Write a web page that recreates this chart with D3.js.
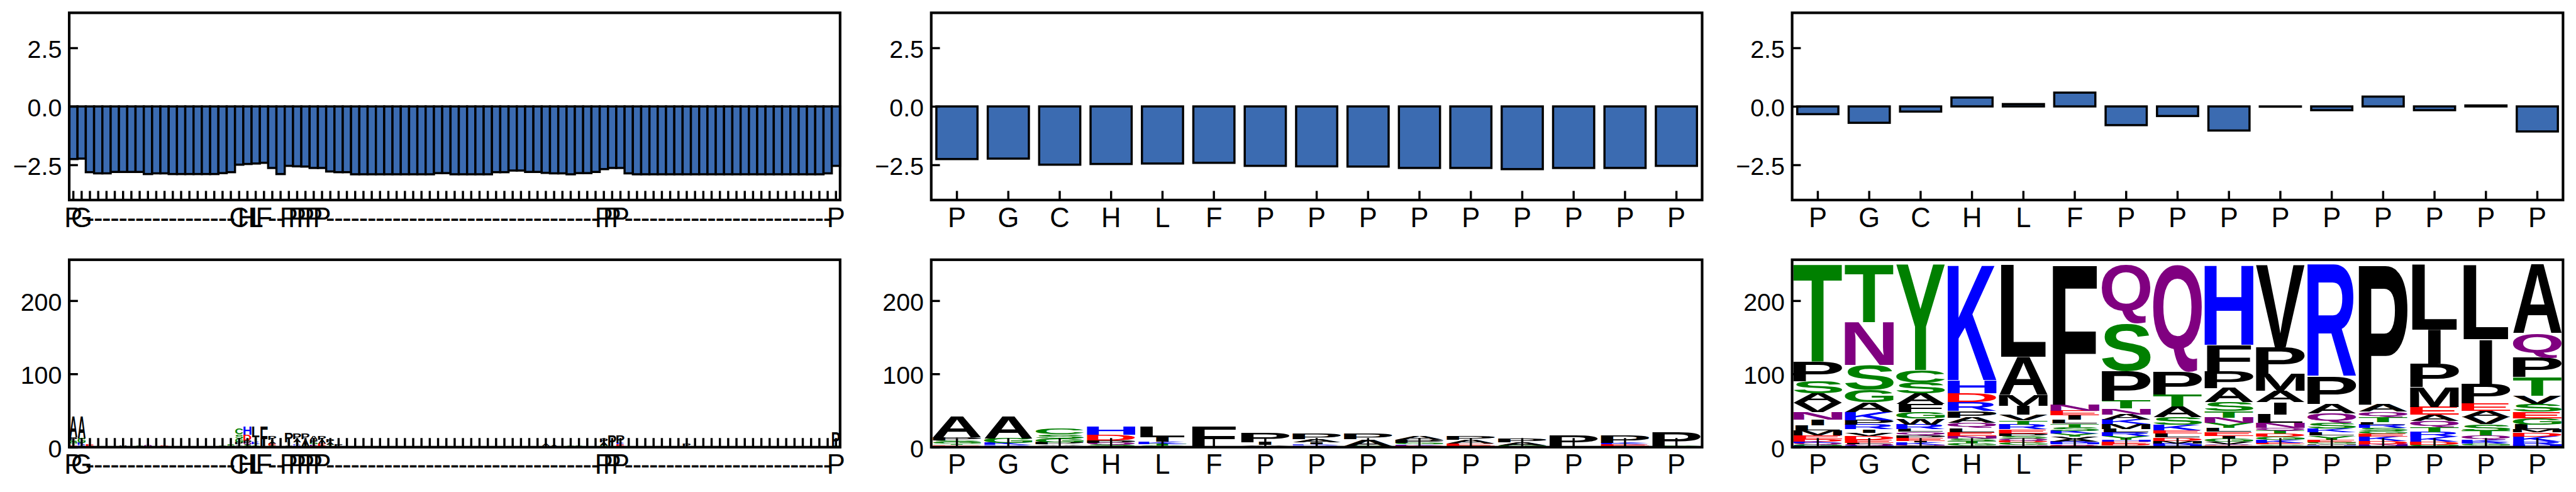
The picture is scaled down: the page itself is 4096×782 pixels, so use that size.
<!DOCTYPE html>
<html><head><meta charset="utf-8">
<script src="https://cdn.jsdelivr.net/npm/d3@7"></script>
<style>html,body{margin:0;padding:0;background:#fff;overflow:hidden}</style>
</head><body><svg id="c" width="4096" height="782" xmlns="http://www.w3.org/2000/svg"></svg>
<script>
// ---------------- DATA ----------------
const seqLabels = ["P","G","C","H","L","F","P","P","P","P","P","P","P","P","P"];
const alnLength = 93;
const alnColumns = [0,1,20,21,22,23,26,27,28,29,30,64,65,66,92]; // alignment column of each residue
const seqScores = [-2.25,-2.23,-2.49,-2.46,-2.44,-2.41,-2.54,-2.56,-2.57,-2.63,-2.63,-2.68,-2.63,-2.63,-2.54];
const gapScores = [ // [column, score] for alignment columns without residue
 [2,-2.81],[3,-2.86],[4,-2.86],[5,-2.80],[6,-2.80],[7,-2.80],[8,-2.80],[9,-2.89],[10,-2.86],[11,-2.86],
 [12,-2.89],[13,-2.89],[14,-2.89],[15,-2.89],[16,-2.89],[17,-2.89],[18,-2.85],[19,-2.81],
 [24,-2.63],[25,-2.89],[31,-2.78],[32,-2.81],[33,-2.81],
 [34,-2.90],[35,-2.90],[36,-2.90],[37,-2.90],[38,-2.90],[39,-2.90],[40,-2.90],[41,-2.90],[42,-2.90],[43,-2.90],
 [44,-2.85],[45,-2.85],[46,-2.90],[47,-2.90],[48,-2.90],[49,-2.90],[50,-2.90],[51,-2.81],[52,-2.81],
 [53,-2.74],[54,-2.74],[55,-2.80],[56,-2.80],[57,-2.84],[58,-2.86],[59,-2.86],[60,-2.90],[61,-2.85],[62,-2.85],[63,-2.80],
 [67,-2.86],[68,-2.90],[69,-2.90],[70,-2.90],[71,-2.90],[72,-2.90],[73,-2.90],[74,-2.90],[75,-2.90],[76,-2.90],
 [77,-2.90],[78,-2.90],[79,-2.90],[80,-2.90],[81,-2.90],[82,-2.90],[83,-2.90],[84,-2.90],[85,-2.90],[86,-2.90],
 [87,-2.90],[88,-2.90],[89,-2.90],[90,-2.90],[91,-2.86]
];
const diffScores = [-0.33,-0.70,-0.22,0.38,0.10,0.59,-0.80,-0.41,-1.03,-0.01,-0.16,0.42,-0.16,0.04,-1.07];
const scoreTicks = [-2.5, 0, 2.5];
const countTicks = [0, 100, 200];

// letter stacks, listed top -> bottom
const seqCounts = [
 [["A",28.8],["P",4.5],["S",2.5],["G",2],["T",1.5],["E",1.5],["V",1.5]],
 [["A",29.6],["G",6.1],["K",2.9],["R",1.5],["Q",1.5]],
 [["C",7.8],["S",5.6],["G",5.6],["P",2.7],["A",1.5],["T",1.2],["V",1.0]],
 [["H",10.6],["D",8.1],["P",3.1],["Q",2.2],["S",2.2],["N",1.5]],
 [["L",14.2],["I",6.1],["K",2.9],["T",2.5],["S",2.0]],
 [["F",26.3],["L",0.8],["S",0.6]],
 [["P",13.0],["I",3.8],["A",1.5],["S",1.4]],
 [["P",7.9],["A",4],["I",2.5],["K",1.5],["R",1.5],["S",1.3]],
 [["P",7.9],["A",9],["S",1.8]],
 [["A",5.6],["P",3.8],["G",1.8],["K",1.5],["E",1.4],["S",1.2]],
 [["P",5.6],["A",5.2],["E",2.7],["S",1.8]],
 [["P",5.2],["A",4],["G",2],["K",0.7]],
 [["P",14.4],["S",1.4]],
 [["P",9.4],["K",2.2],["E",2.2],["S",1.5]],
 [["P",19.1],["G",1.8]]
];
const gapCounts = [
 [2,[["E",2.5],["K",1.2]]],[6,[["V",2.2]]],[8,[["G",2.5]]],[9,[["Q",2.0]]],[11,[["E",1.8]]],
 [18,[["S",2.0]]],[19,[["S",3.5],["G",1.0]]],
 [24,[["P",5],["I",3],["A",2.5],["E",2.5],["S",2]]],[25,[["K",1.5]]],
 [31,[["P",4],["A",3],["Y",2],["E",1.5]]],[32,[["P",2],["K",1.5]]],[33,[["E",1.5]]],
 [55,[["E",1.5],["K",1]]],[57,[["A",3],["Y",1.5]]],[58,[["A",2],["E",1]]],[60,[["G",2.5]]],[61,[["S",2]]],
 [62,[["G",1.2]]],[70,[["K",1.2]]],[72,[["K",1.5],["E",1]]],[74,[["P",3],["K",1.5]]]
];
const familyCounts = [
 [["T",132.7],["P",26.5],["S",16.6],["A",12.7],["V",12.8],["N",10.1],["I",7.8],["L",6.8],["M",6.8],["E",5.6],["D",3],["K",2],["Q",2],["G",2],["R",1.8]],
 [["T",78.7],["N",58.5],["S",34],["G",16.6],["A",13.5],["K",11.2],["P",6.1],["R",6.2],["I",4.7],["V",4.4],["D",5.6],["E",3.9],["L",2],["Q",2],["H",1.9]],
 [["Y",144],["C",16.9],["S",14.6],["A",14.6],["F",11.3],["G",9],["W",7.9],["R",6.2],["L",3.8],["Q",4.6],["P",3.3],["E",4.5],["I",1.8],["K",3.1],["N",1.2],["V",1.2],["M",1.2]],
 [["K",157.4],["H",18],["D",12.4],["R",11.9],["P",9],["A",7.2],["Q",6.7],["L",5.7],["E",5.6],["N",3.4],["S",3.8],["T",2.9],["G",2.9],["I",1.2],["V",1.0]],
 [["L",125.9],["A",51.8],["M",14.6],["I",12.4],["V",7.8],["T",5.7],["R",6.6],["E",5.7],["P",3.4],["S",3.4],["Q",3.4],["D",2.2],["G",3.4],["N",1.5],["K",1.4]],
 [["F",191.2],["N",8.5],["E",6.1],["I",6],["L",5.2],["T",4.5],["S",5.2],["K",3.8],["Y",3.8],["V",3.6],["A",3.8],["R",2],["H",1.6],["Q",1.4],["D",1.3],["M",1.1]],
 [["Q",80.6],["S",64.8],["P",40.5],["T",10.6],["N",7.9],["A",7.1],["K",6.3],["M",6.3],["L",4.9],["R",4.9],["Y",5.2],["H",2.2],["E",3.4],["D",2],["G",1.5],["V",1.0]],
 [["Q",146.2],["P",31],["T",16.2],["A",14.6],["S",10.2],["K",7.8],["E",4.5],["L",5.6],["D",4.5],["M",3.4],["R",2],["H",1.8],["N",1.4]],
 [["H",109.1],["F",35.9],["P",23.2],["A",19.6],["S",11.9],["T",9],["N",7.2],["Y",6.7],["L",5.6],["E",5.6],["I",3.4],["G",4.5],["V",2.9],["Q",1.8],["D",1.5],["K",1.2]],
 [["V",112.4],["P",36],["M",23.6],["A",15.8],["I",16.4],["L",11.7],["N",6.7],["Q",4],["T",3.8],["D",4.5],["G",4.5],["K",3.8],["E",2],["S",1.5],["H",1.3],["Y",1]],
 [["R",152.9],["P",37.1],["A",13.5],["Q",12.4],["S",7.8],["K",5.2],["L",4.5],["Y",5.4],["E",3.6],["G",2.2],["M",1.5],["H",1.2],["D",1],["N",0.9]],
 [["P",191.2],["A",9.4],["Q",7.4],["T",6.8],["L",3.4],["R",4.9],["S",4],["G",3.4],["E",3.8],["K",6.3],["D",4],["N",2.5],["H",2]],
 [["L",88.8],["I",46.1],["P",32],["M",26.9],["E",10.8],["A",8.5],["Q",8.3],["T",6.7],["R",6.7],["K",6.7],["D",3.8],["G",2],["S",1.6]],
 [["L",101.6],["I",61.4],["P",26.3],["E",10.3],["A",8.3],["V",9.7],["S",9],["T",6.7],["Q",5.4],["K",3.6],["R",2.2],["G",2],["D",1.5],["N",1]],
 [["A",94],["Q",33],["P",26.4],["T",25.4],["V",11.2],["S",10.6],["E",9],["G",8.6],["L",6.3],["M",4.5],["D",5.4],["K",7.4],["R",4],["H",2],["N",1.4]]
];

// ---------------- STYLE / LAYOUT ----------------
const S = 4096/5933;
const FONT = "'Liberation Sans', Arial, Helvetica, sans-serif";
const BAR = "#3b6bb1";
const chem = {G:"#008000",S:"#008000",T:"#008000",Y:"#008000",C:"#008000",
  Q:"#800080",N:"#800080",K:"#0000ff",R:"#0000ff",H:"#0000ff",D:"#ff0000",E:"#ff0000"};
const colorOf = ch => chem[ch] || "#000000";
const colL = [159.4, 2144.8, 4127.6], PW = 1775.5;
const rows = [{t:29.5,b:460.5},{t:598,b:1029.5}];
const SPINE = 6, TICKW = 5, TICKL = 21, YFS = 57, XFS = 63;

const svg = d3.select("#c");
svg.append("rect").attr("width",4096).attr("height",782).attr("fill","#fff");
const root = svg.append("g").attr("transform",`scale(${S})`);

// alignment labels
const alnLabels = d3.range(alnLength).map(()=>"-");
alnColumns.forEach((c,i)=>{ alnLabels[c] = seqLabels[i]; });
const alnScores = d3.range(alnLength).map(()=>0);
gapScores.forEach(([c,v])=>{ alnScores[c]=v; });
alnColumns.forEach((c,i)=>{ alnScores[c]=seqScores[i]; });

// glyph measurement
const cv = document.createElement("canvas").getContext("2d");
const GFS = 200;
cv.font = `bold ${GFS}px 'Liberation Sans'`;
const inkCache = {};
function ink(ch){
  if(!inkCache[ch]){ const m = cv.measureText(ch);
    inkCache[ch] = {l:m.actualBoundingBoxLeft, r:m.actualBoundingBoxRight, a:m.actualBoundingBoxAscent, d:m.actualBoundingBoxDescent}; }
  return inkCache[ch];
}
function glyph(g, ch, x, y, w, h){
  if(h<=0) return;
  const b = ink(ch), e = ink("E");
  const cw = b.l+b.r;
  const sx = Math.min(w/cw, w/(e.l+e.r));   // never stretch more than "E"
  const sy = h/(b.a+b.d);
  const xo = x + (w - sx*cw)/2;
  g.append("text").text(ch)
   .attr("transform",`translate(${xo},${y}) scale(${sx},${sy}) translate(${b.l},${b.a})`)
   .attr("font-family","'Liberation Sans'").attr("font-weight","bold").attr("font-size",GFS)
   .attr("fill", colorOf(ch));
}

function makePanel(col,row,n,yDomain,yTicks,yFmt,xLabels){
  const x0 = colL[col], x1 = x0+PW, y0 = rows[row].t, y1 = rows[row].b;
  const g = root.append("g");
  const xs = d3.scaleBand().domain(d3.range(n)).range([x0,x1]).padding(0);
  const ys = d3.scaleLinear().domain(yDomain).range([y1,y0]);
  const marks = g.append("g");
  const ax = g.append("g").attr("transform",`translate(0,${y1})`)
    .call(d3.axisBottom(xs).tickSize(-TICKL).tickPadding(17).tickFormat(i=>xLabels[i]));
  const ay = g.append("g").attr("transform",`translate(${x0},0)`)
    .call(d3.axisLeft(ys).tickValues(yTicks).tickSize(-20).tickPadding(17).tickFormat(yFmt));
  [ax,ay].forEach(a=>{
    a.select(".domain").remove();
    a.selectAll(".tick line").attr("stroke","#000").attr("stroke-width",TICKW);
    a.selectAll(".tick text").attr("fill","#000").attr("font-family",FONT);
  });
  ax.selectAll(".tick text").attr("font-size",XFS).attr("dy","0.71em");
  ay.selectAll(".tick text").attr("font-size",YFS).attr("dy","0.40em");
  g.append("rect").attr("x",x0).attr("y",y0).attr("width",x1-x0).attr("height",y1-y0)
   .attr("fill","none").attr("stroke","#000").attr("stroke-width",SPINE);
  return {g, marks, xs, ys};
}

function drawBars(p, values, frac, sw){
  const bw = p.xs.bandwidth()*frac;
  p.marks.selectAll("rect").data(values).join("rect")
   .attr("x",(d,i)=>p.xs(i)+(p.xs.bandwidth()-bw)/2)
   .attr("y",d=>p.ys(Math.max(0,d)))
   .attr("width",bw)
   .attr("height",d=>Math.abs(p.ys(d)-p.ys(0)))
   .attr("fill",BAR).attr("stroke","#000").attr("stroke-width",sw);
}

function drawLogo(p, stacks, frac){
  const bw = p.xs.bandwidth()*frac;
  stacks.forEach(([pos,letters])=>{
    const xl = p.xs(pos)+(p.xs.bandwidth()-bw)/2;
    let cum = 0;
    for(let i=letters.length-1;i>=0;i--){
      const [ch,v] = letters[i];
      const yb = p.ys(cum), yt = p.ys(cum+v);
      glyph(p.marks, ch, xl, yt, bw, yb-yt);
      cum += v;
    }
  });
}

const fmtScore = d => d===0 ? "0.0" : (d<0 ? "\u2212"+Math.abs(d).toFixed(1) : d.toFixed(1));
const fmtCount = d => String(d);

// top row
const p1 = makePanel(0,0,alnLength,[-4,4],scoreTicks,fmtScore,alnLabels);
drawBars(p1, alnScores, 1.0, 5);
const p2 = makePanel(1,0,seqLabels.length,[-4,4],scoreTicks,fmtScore,seqLabels);
drawBars(p2, seqScores, 0.8, 5);
const p3 = makePanel(2,0,seqLabels.length,[-4,4],scoreTicks,fmtScore,seqLabels);
drawBars(p3, diffScores, 0.8, 5);

// bottom row
const p4 = makePanel(0,1,alnLength,[0,256],countTicks,fmtCount,alnLabels);
drawLogo(p4, gapCounts.concat(alnColumns.map((c,i)=>[c,seqCounts[i]])), 0.95);
const p5 = makePanel(1,1,seqLabels.length,[0,256],countTicks,fmtCount,seqLabels);
drawLogo(p5, seqCounts.map((s,i)=>[i,s]), 0.94);
const p6 = makePanel(2,1,seqLabels.length,[0,256],countTicks,fmtCount,seqLabels);
drawLogo(p6, familyCounts.map((s,i)=>[i,s]), 0.95);
</script>
</body></html>
